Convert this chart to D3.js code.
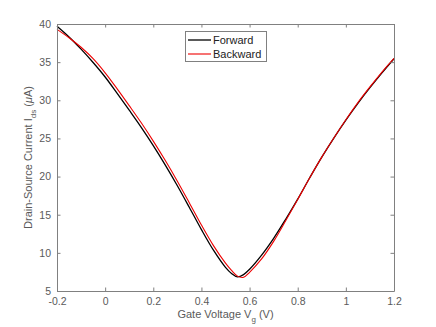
<!DOCTYPE html>
<html>
<head>
<meta charset="utf-8">
<script src="https://cdn.jsdelivr.net/npm/d3@7"></script>
<style>
  body { margin: 0; background: #fff; }
  svg { display: block; font-family: "Liberation Sans", Arial, sans-serif; }
</style>
</head>
<body>
<svg id="chart"></svg>
<script>
const width = 436, height = 327;

// gate voltage (V) and drain-source current (uA)
const fwd_v = [-0.2, -0.15, -0.1, -0.05, 0, 0.05, 0.1, 0.15, 0.2, 0.25, 0.3, 0.35, 0.4, 0.45, 0.5, 0.525, 0.55, 0.575, 0.6, 0.65, 0.7, 0.75, 0.8, 0.85, 0.9, 0.95, 1.0, 1.05, 1.1, 1.15, 1.2];
const fwd_i = [39.7, 38.3, 36.7, 34.95, 33.05, 30.9, 28.7, 26.45, 24.05, 21.5, 18.8, 15.95, 13.05, 10.35, 8.1, 7.3, 6.85, 7.15, 7.85, 9.7, 11.9, 14.4, 17.05, 19.85, 22.55, 25.05, 27.4, 29.6, 31.65, 33.6, 35.45];
const bwd_v = [-0.2, -0.15, -0.1, -0.05, 0, 0.05, 0.1, 0.15, 0.2, 0.25, 0.3, 0.35, 0.4, 0.45, 0.5, 0.525, 0.55, 0.575, 0.6, 0.65, 0.7, 0.75, 0.8, 0.85, 0.9, 0.95, 1.0, 1.05, 1.1, 1.15, 1.2];
const bwd_i = [39.3, 38.2, 36.95, 35.45, 33.6, 31.5, 29.3, 27.05, 24.65, 22.1, 19.4, 16.55, 13.65, 10.95, 8.65, 7.7, 6.95, 6.8, 7.45, 9.2, 11.5, 14.2, 17.0, 19.85, 22.55, 25.05, 27.45, 29.7, 31.75, 33.7, 35.5];

const x_ticks = [-0.2, 0, 0.2, 0.4, 0.6, 0.8, 1, 1.2];
const y_ticks = [5, 10, 15, 20, 25, 30, 35, 40];
const series = [
  { name: 'Forward', v: fwd_v, i: fwd_i, color: '#000', w: 1.3 },
  { name: 'Backward', v: bwd_v, i: bwd_i, color: '#e00', w: 1.1 }
];

const margin = { left: 57, right: 42, top: 24, bottom: 36 };
const axis_col = '#808080';
const text_col = '#5a5a5a';

let svg = d3.select('#chart')
  .attr('width', width)
  .attr('height', height);

let x = d3.scaleLinear().domain([-0.2, 1.2]).range([margin.left, width - margin.right]);
let y = d3.scaleLinear().domain([5, 40]).range([height - margin.bottom, margin.top]);

let line = d3.line()
  .x(d => x(d[0]))
  .y(d => y(d[1]))
  .curve(d3.curveCatmullRom);

series.forEach((s) => {
  svg.append('path')
    .datum(s.v.map((v, k) => [v, s.i[k]]))
    .attr('fill', 'none')
    .attr('stroke', s.color)
    .attr('stroke-width', s.w)
    .attr('d', line);
});

// axes box with inward ticks on all four sides
const tick_len = 3.5;
let fmt = d => String(d);
let ax = [
  d3.axisBottom(x).tickValues(x_ticks).tickFormat(fmt).tickSizeInner(-tick_len).tickSizeOuter(0).tickPadding(7),
  d3.axisTop(x).tickValues(x_ticks).tickFormat('').tickSizeInner(-tick_len).tickSizeOuter(0),
  d3.axisLeft(y).tickValues(y_ticks).tickFormat(fmt).tickSizeInner(-tick_len).tickSizeOuter(0).tickPadding(6),
  d3.axisRight(y).tickValues(y_ticks).tickFormat('').tickSizeInner(-tick_len).tickSizeOuter(0)
];
let pos = [
  `translate(0,${y(5)})`, `translate(0,${y(40)})`,
  `translate(${x(-0.2)},0)`, `translate(${x(1.2)},0)`
];
ax.forEach((a, k) => {
  let g = svg.append('g').attr('transform', pos[k]).call(a);
  g.select('.domain').attr('stroke', axis_col);
  g.selectAll('.tick line').attr('stroke', axis_col);
  g.selectAll('.tick text')
    .attr('fill', text_col)
    .style('font-size', '10.5px')
    .style('font-family', '"Liberation Sans", Arial, sans-serif');
});

// axis titles
let xl = svg.append('text')
  .attr('x', x(0.5))
  .attr('y', 318)
  .attr('text-anchor', 'middle')
  .attr('fill', text_col)
  .style('font-size', '11px');
xl.append('tspan').text('Gate Voltage V');
xl.append('tspan').attr('dy', 4).style('font-size', '8px').text('g');
xl.append('tspan').attr('dy', -4).text(' (V)');

let yl = svg.append('text')
  .attr('transform', `translate(32,${(y(5) + y(40)) / 2}) rotate(-90)`)
  .attr('text-anchor', 'middle')
  .attr('fill', text_col)
  .style('font-size', '11px');
yl.append('tspan').text('Drain-Source Current  I');
yl.append('tspan').attr('dy', 4).style('font-size', '8px').text('ds');
yl.append('tspan').attr('dy', -4).text(' (');
yl.append('tspan').style('font-style', 'italic').text('\u03bc');
yl.append('tspan').text('A)');

// legend
let lg = svg.append('g');
lg.append('rect')
  .attr('x', 185.5).attr('y', 31.5)
  .attr('width', 81).attr('height', 30)
  .attr('fill', '#fff')
  .attr('stroke', axis_col);
series.forEach((s, k) => {
  let ly = 40 + k * 14;
  lg.append('line')
    .attr('x1', 188).attr('x2', 211)
    .attr('y1', ly).attr('y2', ly)
    .attr('stroke', s.color)
    .attr('stroke-width', s.w);
  lg.append('text')
    .attr('x', 213).attr('y', ly + 4)
    .attr('fill', '#222')
    .style('font-size', '11px')
    .text(s.name);
});
</script>
</body>
</html>
